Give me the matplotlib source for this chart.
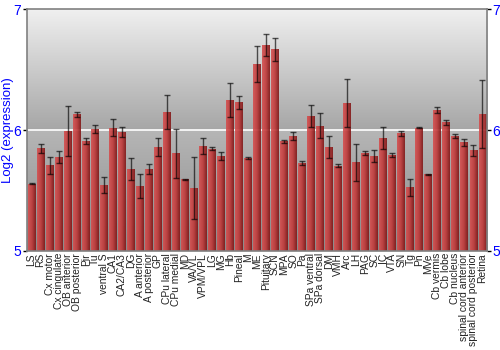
import numpy as np
import matplotlib
matplotlib.use('Agg')
import matplotlib.pyplot as plt
from matplotlib.colors import LinearSegmentedColormap

plt.rcParams['font.family'] = ['Liberation Sans', 'DejaVu Sans']

# regioes e valores
regioes = ['LS', 'RS', 'Cx motor', 'Cx cingulate', 'OB anterior', 'OB posterior', 'Pir', 'Tu',
           'ventral S', 'CA1', 'CA2/CA3', 'DG', 'A anterior', 'A posterior', 'GP', 'CPu lateral',
           'CPu medial', 'MD', 'VA/VL', 'VPM/VPL', 'LG', 'MG', 'Hb', 'Pineal', 'M', 'ME',
           'Pituitary', 'SCN', 'MPA', 'SO', 'Pa', 'SPa ventral', 'SPa dorsal', 'DM', 'VMH', 'Arc',
           'LH', 'PAG', 'SC', 'IC', 'VTA', 'SN', 'Tg', 'Pn', 'MVe', 'Cb vermis', 'Cb lobe',
           'Cb nucleus', 'spinal cord anterior', 'spinal cord posterior', 'Retina']

expressao = [5.554, 5.849, 5.708, 5.774, 5.992, 6.130, 5.909, 6.008,
             5.543, 6.019, 5.983, 5.675, 5.537, 5.680, 5.860, 6.149,
             5.807, 5.593, 5.520, 5.868, 5.846, 5.785, 6.248, 6.229, 5.769, 6.545,
             6.702, 6.669, 5.906, 5.953, 5.727, 6.116, 6.036, 5.860, 5.705, 6.226,
             5.733, 5.810, 5.785, 5.934, 5.793, 5.972, 5.526, 6.017, 5.634, 6.165, 6.063,
             5.948, 5.898, 5.832, 6.132]

erro = [0.004, 0.036, 0.071, 0.050, 0.207, 0.023, 0.028, 0.036,
        0.067, 0.072, 0.040, 0.092, 0.099, 0.041, 0.073, 0.139,
        0.204, 0.005, 0.258, 0.070, 0.012, 0.037, 0.143, 0.055, 0.005, 0.151,
        0.092, 0.095, 0.014, 0.034, 0.017, 0.088, 0.106, 0.092, 0.011, 0.200,
        0.153, 0.014, 0.048, 0.090, 0.018, 0.022, 0.073, 0.004, 0.004, 0.028, 0.019,
        0.017, 0.026, 0.047, 0.278]

base = 5
x = np.arange(len(regioes))

fig = plt.figure(figsize=(5, 3.5), dpi=100)
ax = fig.add_axes([0.054, 0.283, 0.92, 0.691])

# fundo em degrade (duas faixas)
cinza_sup = LinearSegmentedColormap.from_list('sup', ['#a6a6a6', '#f0f0f0'])
cinza_inf = LinearSegmentedColormap.from_list('inf', ['#8a8a8a', '#b6b6b6'])
grad = np.linspace(0, 1, 256).reshape(-1, 1)
ax.imshow(grad, cmap=cinza_sup, origin='lower', aspect='auto',
          extent=[-0.5, len(regioes) - 0.5, 6, 7], zorder=0)
ax.imshow(grad, cmap=cinza_inf, origin='lower', aspect='auto',
          extent=[-0.5, len(regioes) - 0.5, 5, 6], zorder=0)
ax.axhline(6, color='white', lw=1.2, zorder=1)

# barras com degrade horizontal
vermelho = LinearSegmentedColormap.from_list('verm', ['#d65050', '#c03838', '#7e1414'])
barras = ax.bar(x, np.array(expressao) - base, bottom=base, width=0.88,
                color='none', edgecolor='none', zorder=2)
grad_h = np.linspace(0, 1, 64).reshape(1, -1)
for b in barras:
    im = ax.imshow(grad_h, cmap=vermelho, aspect='auto', alpha=0.9,
                   extent=[b.get_x(), b.get_x() + b.get_width(), b.get_y(), b.get_y() + b.get_height()],
                   zorder=2)
    im.set_clip_path(b)

ax.errorbar(x, expressao, yerr=erro, fmt='none', ecolor='black', alpha=0.65,
            elinewidth=1, capsize=2, capthick=1, zorder=3)

ax.set_xlim(-0.5, len(regioes) - 0.5)
ax.set_ylim(5, 7)
ax.set_xticks(x)
ax.set_xticklabels(regioes, rotation=90, fontsize=7.4, color='#222222')
ax.tick_params(axis='x', length=0, pad=1.5)
ax.set_yticks([5, 6, 7])
ax.tick_params(axis='y', labelcolor='blue', labelsize=10, length=3, width=1,
               left=True, right=True, labelleft=True, labelright=True, pad=1)
ax.set_ylabel('Log2 (expression)', color='blue', fontsize=9.5, labelpad=0)
for s in ax.spines.values():
    s.set_color('#808080')
    s.set_linewidth(1.2)

plt.savefig('out.png', dpi=100)
